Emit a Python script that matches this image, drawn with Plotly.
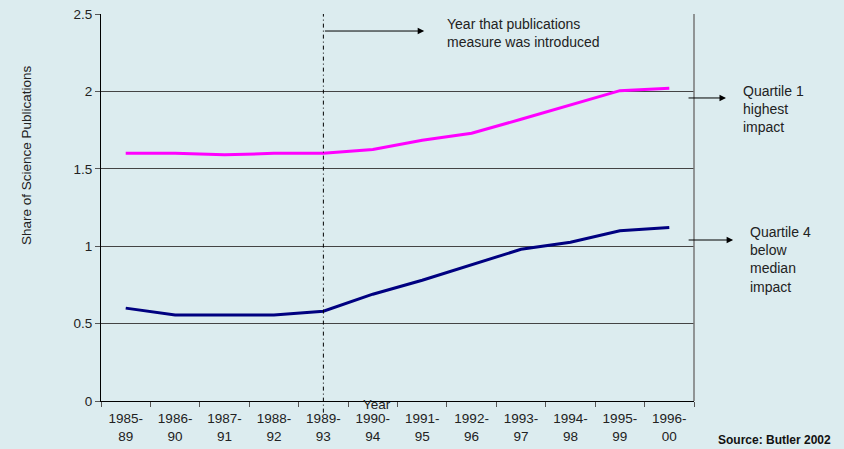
import plotly.graph_objects as go

categories = ["1985-<br>89", "1986-<br>90", "1987-<br>91", "1988-<br>92", "1989-<br>93", "1990-<br>94",
              "1991-<br>95", "1992-<br>96", "1993-<br>97", "1994-<br>98", "1995-<br>99", "1996-<br>00"]
quartile1 = [1.60, 1.60, 1.59, 1.60, 1.60, 1.625, 1.685, 1.73, 1.82, 1.915, 2.005, 2.02]
quartile4 = [0.60, 0.555, 0.555, 0.555, 0.58, 0.69, 0.78, 0.88, 0.98, 1.025, 1.10, 1.12]
y_ticks = [0, 0.5, 1, 1.5, 2, 2.5]
y_ticklabels = ["0", "0.5", "1", "1.5", "2", "2.5"]

BG = "#dcecef"
FONT = "Liberation Sans, Arial, sans-serif"
TXT = "#222222"

fig = go.Figure()
fig.add_trace(go.Scatter(x=categories, y=quartile1, mode="lines",
                         line=dict(color="#ff00ff", width=3), showlegend=False))
fig.add_trace(go.Scatter(x=categories, y=quartile4, mode="lines",
                         line=dict(color="#000080", width=3), showlegend=False))

fig.update_layout(
    width=844, height=449,
    margin=dict(l=101, r=150, t=14, b=48),
    paper_bgcolor=BG, plot_bgcolor=BG,
    font=dict(family=FONT, size=13.5, color=TXT),
    xaxis=dict(type="category", tickson="boundaries", ticks="outside", ticklen=5,
               tickcolor="#555555", showgrid=False, showline=True, linecolor="#000000",
               linewidth=1, tickfont=dict(size=13.5), range=[-0.5, 11.5],
               ticklabelstandoff=5, automargin=False),
    yaxis=dict(range=[0, 2.5], tickvals=y_ticks, ticktext=y_ticklabels, ticks="outside",
               ticklen=5, tickcolor="#555555", showgrid=True, gridcolor="#444444",
               gridwidth=1, showline=True, linecolor="#000000", linewidth=1,
               zeroline=False, tickfont=dict(size=13.5), automargin=False),
)

# y-axis title (sits above the axis centre in the original)
fig.add_annotation(xref="paper", yref="paper", x=(26 - 101) / 593, y=(401 - 155) / 387,
                   xanchor="center", yanchor="middle", showarrow=False, textangle=-90,
                   text="Share of Science Publications", font=dict(size=13.5, color=TXT))

# right border of plot area
fig.add_shape(type="line", xref="paper", yref="paper", x0=1, x1=1, y0=0, y1=1,
              line=dict(color="#777777", width=1.5))
# vertical dash-dot line at year of introduction
fig.add_shape(type="line", xref="x", yref="paper", x0=4, x1=4, y0=-0.03, y1=1,
              line=dict(color="#000000", width=1, dash="4px,3px,1px,3px"))

# arrow + text for measure introduction
fig.add_annotation(xref="x", yref="y", x=6.04, y=2.39, axref="x", ayref="y", ax=4, ay=2.39,
                   text="", showarrow=True, arrowhead=2, arrowsize=1.3, arrowwidth=1,
                   arrowcolor="#000000")
fig.add_annotation(xref="paper", yref="paper", x=(445 - 101) / 593, y=(401 - 14) / 387,
                   xanchor="left", yanchor="top", align="left", showarrow=False,
                   text="Year that publications<br>measure was introduced",
                   font=dict(size=14, color=TXT))

# Quartile labels
fig.add_annotation(xref="paper", yref="paper", x=1.054, y=0.783, ax=-39, ay=0,
                   text="", showarrow=True, arrowhead=2, arrowsize=1.3, arrowwidth=1,
                   arrowcolor="#000000")
fig.add_annotation(xref="paper", yref="paper", x=(741 - 101) / 593, y=(401 - 81) / 387,
                   xanchor="left", yanchor="top", align="left", showarrow=False,
                   text="Quartile 1<br>highest<br>impact", font=dict(size=14, color=TXT))
fig.add_annotation(xref="paper", yref="paper", x=1.066, y=0.416, ax=-46, ay=0,
                   text="", showarrow=True, arrowhead=2, arrowsize=1.3, arrowwidth=1,
                   arrowcolor="#000000")
fig.add_annotation(xref="paper", yref="paper", x=(748 - 101) / 593, y=(401 - 222) / 387,
                   xanchor="left", yanchor="top", align="left", showarrow=False,
                   text="Quartile 4<br>below<br>median<br>impact", font=dict(size=14, color=TXT))

# x-axis title
fig.add_annotation(xref="paper", yref="paper", x=(377 - 101) / 593, y=(401 - 404) / 387,
                   xanchor="center", yanchor="middle", showarrow=False, text="Year",
                   font=dict(size=13.5, color=TXT))

# source
fig.add_annotation(xref="paper", yref="paper", x=(833 - 101) / 593, y=(401 - 440) / 387,
                   xanchor="right", yanchor="middle", showarrow=False,
                   text="<b>Source: Butler 2002</b>", font=dict(size=12, color="#111111"))

fig.write_html("out.html", config={"displayModeBar": False},
               post_script="document.body.style.margin='0';")
